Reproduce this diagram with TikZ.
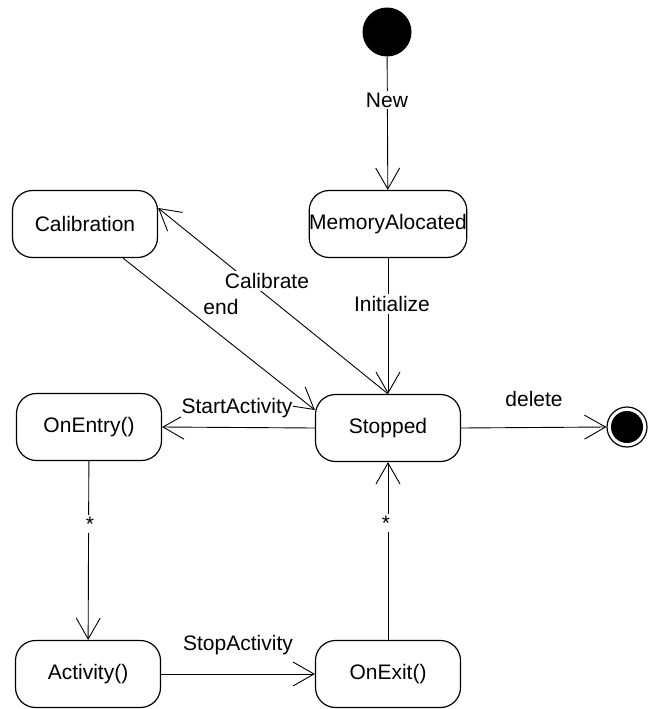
\documentclass[tikz,border=0pt]{standalone}
\usepackage{fontspec}
\setmainfont{Liberation Sans}
\usetikzlibrary{arrows.meta}
\begin{document}
\begin{tikzpicture}[x=1pt,y=-1pt,
  every node/.style={font=\fontsize{21}{25}\selectfont},
  state/.style={draw=black,line width=1.2pt,rounded corners=20pt,minimum width=145pt,minimum height=67pt,inner sep=0pt},
  trans/.style={draw=black,line width=0.9pt,-{Straight Barb[length=21pt,width=24pt,line width=0.9pt]}},
  lbl/.style={fill=white,inner sep=2pt},
  plain/.style={inner sep=1pt}]
\useasboundingbox (0,0) rectangle (648,709);
% states
\node[circle,fill=black,minimum size=49pt,inner sep=0pt] (init) at (387,32) {};
\node[state] (mem) at (388,224) {MemoryAlocated};
\node[state] (cal) at (85,224) {Calibration};
\node[state] (stop) at (388,428) {Stopped};
\node[state] (entry) at (89,427) {OnEntry()};
\node[state] (act) at (88,674) {Activity()};
\node[state] (exit) at (388,674) {OnExit()};
\node[circle,draw=black,line width=1.2pt,minimum size=40pt,inner sep=0pt] (fin) at (627,427) {};
\node[circle,fill=black,minimum size=32pt,inner sep=0pt] (finin) at (627,427) {};
% transitions
\draw[trans] (init) -- (mem);
\node[lbl] (lnew) at (387,100) {New};
\draw[trans] (mem) -- (stop);
\node[lbl] (linit) at (392,304) {Initialize};
\draw[trans] (stop.north) -- ([yshift=16pt]cal.east);
\node[lbl] (lcal) at (267,281) {Calibrate};
\draw[trans] ([xshift=38pt]cal.south) -- ([yshift=18pt]stop.west);
\node[plain] (lend) at (221,307) {end};
\draw[trans] (stop.west) -- (entry.east);
\node[lbl,inner sep=1pt] (lstart) at (237,408) {StartActivity};
\draw[trans] (stop.east) -- (fin.west);
\node[plain] (ldel) at (534,399) {delete};
\draw[trans] (entry) -- (act);
\node[lbl] (lstar1) at (90,524) {*};
\draw[trans] (act) -- (exit);
\node[plain] (lstop) at (238,645) {StopActivity};
\draw[trans] (exit) -- (stop);
\node[lbl] (lstar2) at (386,523) {*};
\end{tikzpicture}
\end{document}
